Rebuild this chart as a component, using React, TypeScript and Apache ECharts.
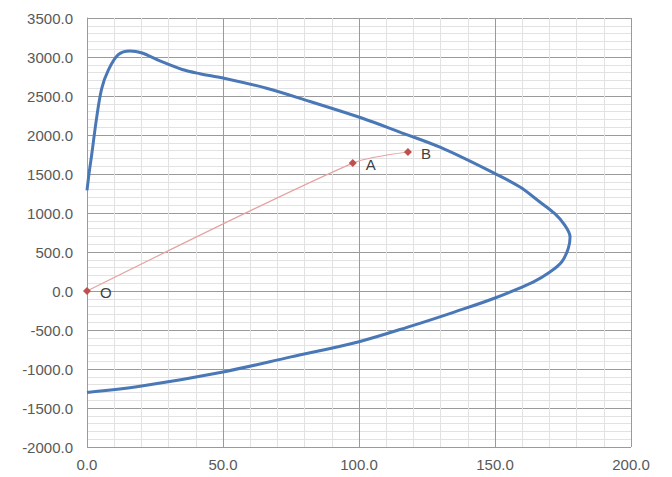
import React, { useEffect, useRef } from "react";
import * as echarts from "echarts";

// Blue envelope curve (x, y)
const curveX = [0, 0.8, 1.7, 3.5, 5.4, 7.8, 11.5, 15.8, 20, 26.8, 35, 41.5, 50, 66, 82, 101, 115, 130, 150, 159.2, 166.5, 172, 175.7, 177.6, 176.9, 174.5, 170.2, 164, 150, 135, 120, 100, 75, 50, 19.5, 0];
const curveY = [1290, 1520, 1740, 2210, 2594, 2829, 3030, 3078, 3055, 2950, 2840, 2786, 2731, 2600, 2430, 2218, 2038, 1840, 1505, 1333, 1141, 991, 842, 692, 542, 372, 244, 115, -90, -270, -440, -650, -845, -1038, -1222, -1300];

// Red path O -> A -> B
const pathX = [0, 97.7, 118];
const pathY = [0, 1640, 1782];
const pathLabels = ["O", "A", "B"];

// Axes
const xMin = 0, xMax = 200, xStep = 50;
const yMin = -2000, yMax = 3500, yStep = 500;

export default function App() {
  const ref = useRef<HTMLDivElement>(null);
  useEffect(() => {
    document.body.style.margin = "0";
    const chart = echarts.init(ref.current!, null, { renderer: "svg" });
    const axisLabel = {
      color: "#595959",
      fontSize: 15,
      fontFamily: "Liberation Sans, Arial, sans-serif",
      formatter: (v: number) => v.toFixed(1),
    };
    const splitLine = { show: true, lineStyle: { color: "#9a9a9a", width: 1 } };
    const minorSplitLine = { show: true, lineStyle: { color: "#e2e2e2", width: 1 } };
    chart.setOption({
      animation: false,
      backgroundColor: "#ffffff",
      grid: { left: 87, right: 41, top: 18, bottom: 30, containLabel: false },
      xAxis: {
        type: "value",
        min: xMin,
        max: xMax,
        interval: xStep,
        axisLine: { show: true, lineStyle: { color: "#9a9a9a" } },
        axisTick: { show: false },
        minorTick: { show: false, splitNumber: 5 },
        axisLabel: { ...axisLabel, margin: 10 },
        splitLine,
        minorSplitLine,
      },
      yAxis: {
        type: "value",
        min: yMin,
        max: yMax,
        interval: yStep,
        axisLine: { show: true, onZero: false, lineStyle: { color: "#9a9a9a" } },
        axisTick: { show: false },
        minorTick: { show: false, splitNumber: 5 },
        axisLabel: { ...axisLabel, margin: 14 },
        splitLine,
        minorSplitLine,
      },
      series: [
        {
          type: "line",
          data: curveX.map((x, i) => [x, curveY[i]]),
          smooth: 0.35,
          showSymbol: false,
          symbol: "none",
          lineStyle: { color: "#4a78b6", width: 3 },
          z: 3,
        },
        {
          type: "line",
          data: pathX.map((x, i) => ({
            value: [x, pathY[i]],
            label: { formatter: pathLabels[i] },
          })),
          smooth: 0.25,
          symbol: "diamond",
          symbolSize: 8,
          itemStyle: { color: "#c0504d" },
          lineStyle: { color: "#e6a3a2", width: 1.2 },
          label: {
            show: true,
            position: "right",
            offset: [4, 1],
            color: "#404040",
            fontSize: 15,
            fontFamily: "Liberation Sans, Arial, sans-serif",
          },
          z: 4,
        },
      ],
    });
    return () => chart.dispose();
  }, []);
  return <div ref={ref} style={{ width: 672, height: 477 }} />;
}
